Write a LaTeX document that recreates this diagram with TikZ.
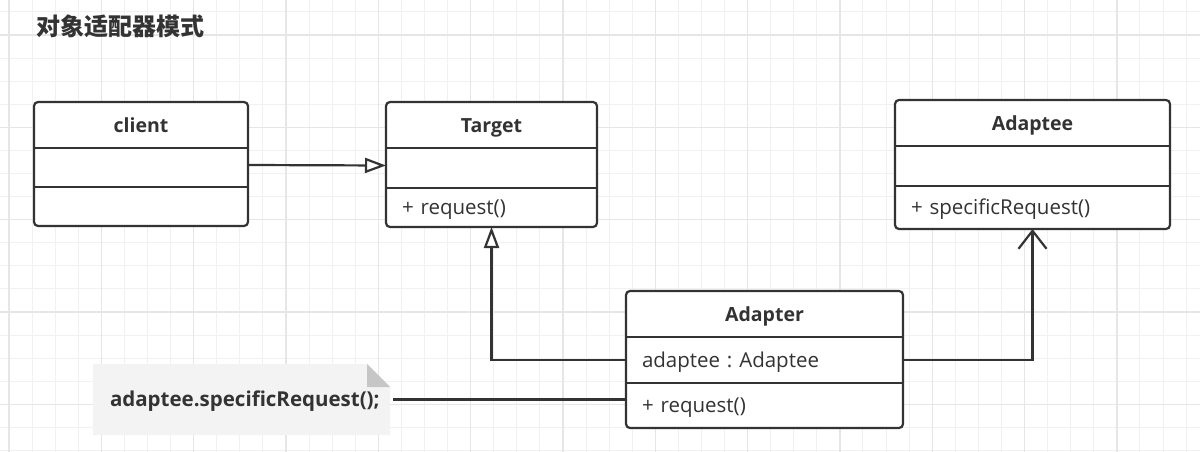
\documentclass[tikz,border=0pt]{standalone}
\usepackage{fontspec}
\setmainfont{Open Sans}
\newfontfamily\cjk{Noto Sans CJK SC}
\usetikzlibrary{arrows.meta,positioning,backgrounds}
\frenchspacing

\definecolor{umlline}{HTML}{333333}
\definecolor{gridminor}{HTML}{F1F1F1}
\definecolor{gridmajor}{HTML}{E6E6E6}
\definecolor{notefill}{HTML}{F3F3F3}
\definecolor{notefold}{HTML}{C6C6C6}

\tikzset{
  classname/.style={minimum width=#1, minimum height=46pt, inner sep=0pt, outer sep=0pt,
    text height=14pt, text depth=0pt, font=\bfseries\fontsize{19.5}{22}\selectfont, text=umlline},
  classpart/.style={minimum height=#1, inner xsep=16pt, inner ysep=0pt, outer sep=0pt,
    text height=14.5pt, text depth=0pt, align=left, font=\fontsize{20.5}{22}\selectfont, text=umlline},
  classbox/.style={draw=umlline, fill=white, line width=2.2pt, rounded corners=4pt},
  sepline/.style={draw=umlline, line width=2.2pt},
  conn/.style={draw=umlline, line width=2.2pt},
  gridline/.style={draw=gridminor, line width=1pt},
  gridbold/.style={draw=gridmajor, line width=1.4pt},
}

\begin{document}
\begin{tikzpicture}[x=1pt, y=-1pt]
	\useasboundingbox (0,0) rectangle (1200,452);

	\node[anchor=west, font=\cjk\bfseries\fontsize{24}{28}\selectfont, text=umlline] (title) at (33,26) {对象适配器模式};

	% client
	\node[classname=214pt] (client) at (141,125) {client};
	\node[classpart=39pt, text width=182pt, below=0pt of client] (client-a) {};
	\node[classpart=39pt, text width=182pt, below=0pt of client-a] (client-m) {};

	% Target
	\node[classname=211pt] (target) at (491.5,125) {Target};
	\node[classpart=40pt, text width=179pt, below=0pt of target] (target-a) {};
	\node[classpart=39pt, text width=179pt, below=0pt of target-a] (target-m) {+ request()};

	% Adaptee
	\node[classname=275pt] (adaptee) at (1032.5,123) {Adaptee};
	\node[classpart=40pt, text width=243pt, below=0pt of adaptee] (adaptee-a) {};
	\node[classpart=43pt, text width=243pt, below=0pt of adaptee-a] (adaptee-m) {+ specificRequest()};

	% Adapter
	\node[classname=277pt] (adapter) at (764.5,314) {Adapter};
	\node[classpart=46pt, text width=245pt, below=0pt of adapter] (adapter-a) {adaptee : Adaptee};
	\node[classpart=45pt, text width=245pt, below=0pt of adapter-a] (adapter-m) {+ request()};

	% note
	\node[minimum width=297pt, minimum height=71pt, inner xsep=17pt, outer sep=0pt, text width=263pt, align=left,
		text height=14.5pt, text depth=0pt, font=\bfseries\fontsize{20.5}{22}\selectfont, text=umlline] (note) at (241.5,399.5) {adaptee.specificRequest();};

	\begin{scope}[on background layer]
		\fill[white] (0,0) rectangle (1200,452);
		\foreach \i in {0,...,51}
			\draw[gridline] ({9+23.08*\i},0) -- ({9+23.08*\i},452);
		\foreach \i in {0,...,19}
			\draw[gridline] (0,{11.92+23.08*\i}) -- (1200,{11.92+23.08*\i});
		\foreach \i in {0,...,12}
			\draw[gridbold] ({9+92.32*\i},0) -- ({9+92.32*\i},452);
		\foreach \i in {0,...,4}
			\draw[gridbold] (0,{35+92.32*\i}) -- (1200,{35+92.32*\i});

		\fill[notefill] (note.north west) -- ([xshift=-23pt]note.north east) -- ([yshift=-23pt]note.north east)
			-- (note.south east) -- (note.south west) -- cycle;
		\fill[notefold] ([xshift=-23pt]note.north east) -- ([xshift=-23pt,yshift=-23pt]note.north east)
			-- ([yshift=-23pt]note.north east) -- cycle;

		\foreach \c in {client,target,adaptee,adapter} {
			\draw[classbox] (\c.north west) rectangle (\c-m.south east);
			\draw[sepline] (\c-a.north west) -- (\c-a.north east) (\c-m.north west) -- (\c-m.north east);
		}
	\end{scope}

	\draw[conn, -{Triangle[length=21pt, width=15pt, fill=white]}] ([yshift=2.5pt]client-a.east) -- ([yshift=2.5pt]target-a.west);
	\draw[conn, -{Triangle[length=21pt, width=15pt, fill=white]}] (adapter-a.west) -| (target-m.south);
	\draw[conn, -{Straight Barb[length=18pt, width=28pt]}] (adapter-a.east) -| (adaptee-m.south);
	\draw[conn] ([xshift=3pt]note.east) -- (note.east -| adapter-m.west);
\end{tikzpicture}
\end{document}
